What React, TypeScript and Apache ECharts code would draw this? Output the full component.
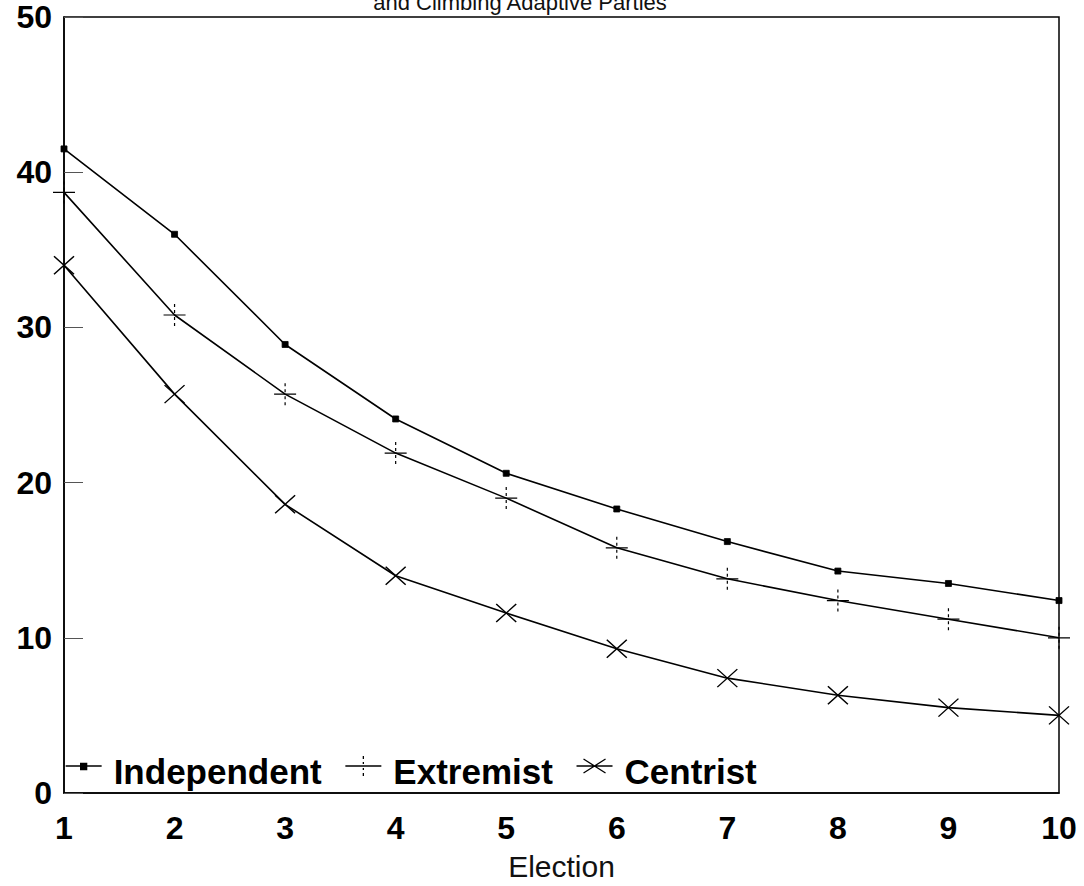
import React, { useEffect, useRef } from "react";
import * as echarts from "echarts";

const elections = ["1", "2", "3", "4", "5", "6", "7", "8", "9", "10"];
const independent = [41.5, 36.0, 28.9, 24.1, 20.6, 18.3, 16.2, 14.3, 13.5, 12.4];
const extremist = [38.7, 30.8, 25.7, 21.9, 19.0, 15.8, 13.8, 12.4, 11.2, 10.0];
const centrist = [34.0, 25.7, 18.6, 14.0, 11.6, 9.3, 7.4, 6.3, 5.5, 5.0];
const seriesNames = ["Independent", "Extremist", "Centrist"];
const titleText = "and Climbing Adaptive Parties";
const xAxisTitle = "Election";

const FONT = '"Liberation Sans", Arial, Helvetica, sans-serif';

const plusSymbol =
  "path://M0,11 L22,11 M11,0 L11,3 M11,6 L11,9 M11,13 L11,16 M11,19 L11,22";
const crossSymbol = "path://M0,0 L20,18 M0,18 L20,0";

const legendIcons = [
  "path://M0,0 M36,30 M0,10 L36,10 M15,7.5 L21,7.5 L21,13.5 L15,13.5 Z",
  "path://M0,0 M36,30 M0,10 L36,10 M18,0 L18,3 M18,6 L18,8 M18,12 L18,14 M18,17 L18,20",
  "path://M0,0 M36,30 M0,10 L36,10 M7,3 L29,17 M7,17 L29,3",
];

export default function App() {
  const ref = useRef<HTMLDivElement>(null);

  useEffect(() => {
    if (!ref.current) return;
    const chart = echarts.init(ref.current, null, { renderer: "svg" });
    const lineCommon = {
      type: "line" as const,
      lineStyle: { color: "#000", width: 1.6 },
      itemStyle: { color: "#000", borderColor: "#000" },
      emphasis: { disabled: true },
      z: 3,
    };
    chart.setOption({
      animation: false,
      backgroundColor: "#fff",
      textStyle: { fontFamily: FONT },
      grid: {
        left: 64,
        right: 25,
        top: 17,
        bottom: 93,
        show: true,
        borderColor: "#000",
        borderWidth: 1.5,
        backgroundColor: "transparent",
      },
      graphic: [
        {
          type: "text",
          x: 520,
          y: 2,
          style: {
            text: titleText,
            fontSize: 22,
            fontFamily: FONT,
            fill: "#111",
            align: "center",
            verticalAlign: "middle",
          },
        },
      ],
      legend: {
        show: true,
        left: 60,
        top: 748.5,
        orient: "horizontal",
        itemWidth: 36,
        itemHeight: 30,
        itemGap: 23,
        selectedMode: false,
        itemStyle: { color: "#000", borderColor: "#000", borderWidth: 1.3 },
        textStyle: {
          fontSize: 35,
          fontWeight: "bold",
          fontFamily: FONT,
          color: "#000",
          padding: [0, 0, 0, 7],
        },
        data: seriesNames.map((n, i) => ({ name: n, icon: legendIcons[i] })),
      },
      xAxis: {
        type: "category",
        data: elections,
        boundaryGap: false,
        name: xAxisTitle,
        nameLocation: "middle",
        nameGap: 58,
        nameTextStyle: { fontSize: 30, color: "#111", fontFamily: FONT },
        axisLine: { show: true, lineStyle: { color: "#000", width: 1.5 } },
        axisTick: { show: false },
        axisLabel: {
          fontSize: 32,
          fontWeight: "bold",
          color: "#000",
          margin: 19,
          fontFamily: FONT,
        },
        splitLine: { show: false },
      },
      yAxis: {
        type: "value",
        min: 0,
        max: 50,
        interval: 10,
        axisLine: { show: true, lineStyle: { color: "#000", width: 1.5 } },
        axisTick: {
          show: true,
          inside: true,
          length: 19,
          lineStyle: { color: "#555", width: 1 },
        },
        axisLabel: {
          fontSize: 32,
          fontWeight: "bold",
          color: "#000",
          margin: 12,
          fontFamily: FONT,
          padding: [6, 0, 0, 0],
        },
        splitLine: { show: false },
      },
      series: [
        {
          ...lineCommon,
          name: seriesNames[0],
          data: independent,
          symbol: "rect",
          symbolSize: 6,
          itemStyle: { color: "#000", borderColor: "#000", borderWidth: 0.8 },
        },
        {
          ...lineCommon,
          name: seriesNames[1],
          data: extremist,
          symbol: plusSymbol,
          symbolSize: [22, 22],
          itemStyle: { color: "#000", borderColor: "#000", borderWidth: 1.2 },
        },
        {
          ...lineCommon,
          name: seriesNames[2],
          data: centrist,
          symbol: crossSymbol,
          symbolSize: [20, 18],
          itemStyle: { color: "#000", borderColor: "#000", borderWidth: 1.4 },
        },
      ],
    });
    return () => chart.dispose();
  }, []);

  return (
    <div
      ref={ref}
      style={{ position: "fixed", left: 0, top: 0, width: 1084, height: 886, background: "#fff" }}
    />
  );
}
